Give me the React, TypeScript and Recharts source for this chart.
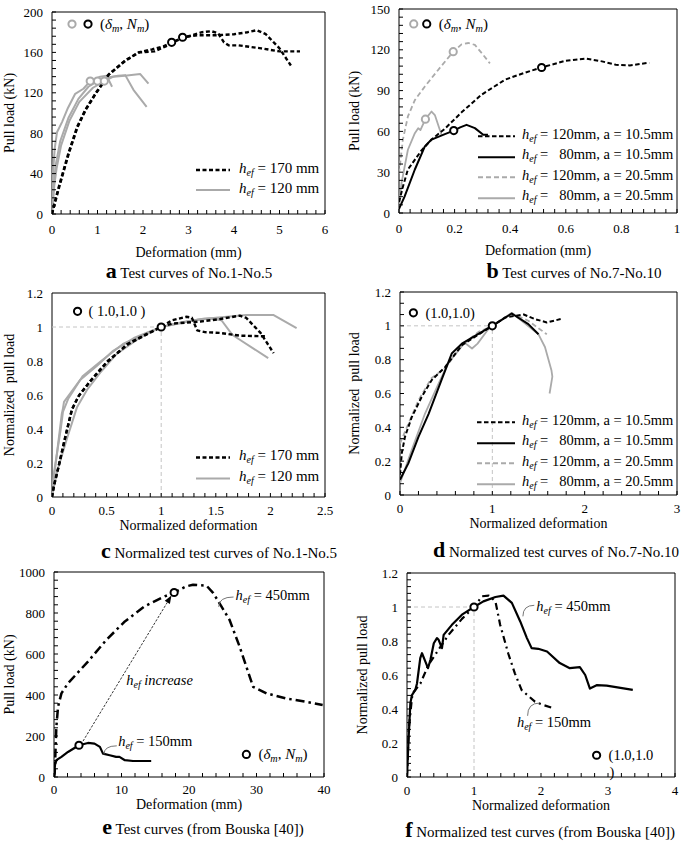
import React from 'react';
import {
  LineChart,
  Line,
  XAxis,
  YAxis,
  Label,
  Legend,
  ReferenceArea,
  ReferenceLine,
  ReferenceDot,
} from 'recharts';

const FONT = "'Liberation Serif', 'Times New Roman', serif";
const BLACK = '#000000';
const GRAY = '#aaaaaa';
const GUIDE = '#c4c4c4';
const LEADER = '#666666';

// ---------- a: test curves No.1-No.5 (mm, kN)
const A_170_1 = [[0, 0], [0.05, 10], [0.15, 27], [0.36, 60], [0.55, 86], [0.73, 103], [0.95, 119], [1.24, 138], [1.61, 152], [1.9, 160], [2.2, 163], [2.45, 166], [2.63, 170], [3.0, 176], [3.3, 180], [3.5, 181], [3.65, 179], [3.78, 170], [3.88, 167], [4.1, 167], [4.6, 164], [5.0, 161], [5.45, 161]];
const A_170_2 = [[0, 0], [0.06, 10], [0.16, 27], [0.37, 60], [0.56, 86], [0.74, 103], [0.96, 119], [1.25, 138], [1.62, 152], [1.92, 160], [2.25, 161], [2.5, 166], [2.87, 175], [3.2, 177], [3.6, 177], [4.0, 178], [4.3, 180], [4.5, 182], [4.7, 178], [5.0, 164], [5.25, 147]];
const A_120_1 = [[0, 0], [0.02, 40], [0.06, 65], [0.11, 81], [0.22, 91], [0.35, 105], [0.51, 119], [0.69, 124], [0.84, 131.6], [1.06, 136], [1.2, 137], [1.32, 126]];
const A_120_2 = [[0, 0], [0.04, 30], [0.08, 48], [0.18, 72], [0.36, 95], [0.58, 114], [0.8, 126], [1.0, 131.6], [1.2, 135], [1.45, 137], [1.61, 137.5], [1.79, 123], [2.08, 106]];
const A_120_3 = [[0, 0], [0.05, 28], [0.1, 45], [0.2, 68], [0.38, 92], [0.6, 111], [0.9, 125], [1.15, 131.6], [1.35, 136], [1.6, 137], [1.94, 138.5], [2.12, 129]];
const A_PEAK_GRAY = [[0.84, 131.6], [1.0, 131.6], [1.15, 131.6]];
const A_PEAK_BLACK = [[2.63, 170], [2.87, 175]];

// ---------- b: test curves No.7-No.10 (mm, kN)
const B_120_105 = [[0, 8], [0.015, 20], [0.032, 32], [0.06, 40], [0.081, 46], [0.117, 54], [0.165, 62], [0.225, 74], [0.297, 87], [0.381, 98], [0.45, 103], [0.513, 107], [0.6, 112], [0.675, 113.5], [0.73, 111.5], [0.78, 109], [0.83, 108.5], [0.9, 110.5]];
const B_80_105 = [[0, 3], [0.02, 12], [0.057, 32], [0.093, 49], [0.117, 54], [0.165, 58], [0.197, 60.6], [0.22, 63], [0.243, 64.8], [0.273, 62.4], [0.303, 57.5], [0.32, 57.5]];
const B_120_205 = [[0, 29], [0.014, 54], [0.032, 71], [0.057, 83], [0.093, 93], [0.14, 105], [0.195, 118.6], [0.225, 124], [0.25, 125], [0.273, 123.6], [0.3, 117], [0.327, 110]];
const B_80_205 = [[0, 5], [0.009, 22], [0.032, 46.5], [0.057, 58.7], [0.069, 62.4], [0.077, 61], [0.095, 69], [0.117, 74.6], [0.129, 72], [0.147, 61], [0.153, 57.5]];
const B_PEAK_GRAY = [[0.195, 118.6], [0.095, 69]];
const B_PEAK_BLACK = [[0.513, 107], [0.197, 60.6]];

// ---------- c: normalized No.1-No.5
const C_170_1 = [[0, 0], [0.015, 0.06], [0.06, 0.18], [0.12, 0.35], [0.18, 0.51], [0.24, 0.59], [0.35, 0.68], [0.5, 0.79], [0.69, 0.9], [0.87, 0.96], [1.0, 1.0], [1.1, 1.02], [1.36, 1.032], [1.54, 1.047], [1.72, 1.067], [1.78, 1.053], [1.91, 0.965], [2.03, 0.846]];
const C_170_2 = [[0, 0], [0.02, 0.07], [0.065, 0.19], [0.125, 0.36], [0.185, 0.52], [0.25, 0.6], [0.36, 0.69], [0.51, 0.8], [0.7, 0.9], [0.88, 0.96], [1.0, 1.0], [1.1, 1.04], [1.23, 1.06], [1.28, 1.055], [1.33, 0.98], [1.4, 0.97], [1.54, 0.965], [1.72, 0.949], [1.97, 0.945]];
const C_120_1 = [[0, 0], [0.015, 0.1], [0.046, 0.26], [0.09, 0.49], [0.1, 0.52], [0.11, 0.56], [0.26, 0.69], [0.41, 0.77], [0.56, 0.86], [0.75, 0.935], [1.0, 1.0], [1.2, 1.03], [1.4, 1.05], [1.54, 1.05], [1.65, 0.955], [1.72, 0.925], [1.98, 0.817]];
const C_120_2 = [[0, 0], [0.03, 0.1], [0.06, 0.18], [0.14, 0.35], [0.23, 0.53], [0.32, 0.63], [0.44, 0.73], [0.59, 0.84], [0.81, 0.94], [1.0, 1.0], [1.3, 1.04], [1.5, 1.055], [1.78, 1.07], [2.03, 1.07], [2.24, 0.994]];
const C_120_3 = [[0, 0], [0.02, 0.15], [0.08, 0.4], [0.1, 0.5], [0.15, 0.58], [0.28, 0.71], [0.45, 0.8], [0.65, 0.9], [1.0, 1.0], [1.3, 1.04], [1.45, 1.05], [1.55, 1.04]];

// ---------- d: normalized No.7-No.10
const D_120_105 = [[0, 0.12], [0.02, 0.25], [0.054, 0.344], [0.127, 0.46], [0.235, 0.58], [0.344, 0.68], [0.488, 0.756], [0.67, 0.885], [0.81, 0.935], [1.0, 1.0], [1.14, 1.05], [1.34, 1.067], [1.46, 1.04], [1.59, 1.02], [1.74, 1.04]];
const D_80_105 = [[0, 0.09], [0.09, 0.187], [0.2, 0.344], [0.31, 0.48], [0.45, 0.68], [0.56, 0.836], [0.67, 0.895], [0.84, 0.95], [1.0, 1.0], [1.21, 1.073], [1.39, 1.01], [1.5, 0.95]];
const D_120_205 = [[0, 0.305], [0.09, 0.42], [0.2, 0.56], [0.34, 0.69], [0.49, 0.75], [0.67, 0.885], [0.85, 0.964], [1.0, 1.0], [1.21, 1.073], [1.39, 1.03], [1.59, 0.95]];
const D_80_205 = [[0, 0.07], [0.127, 0.266], [0.27, 0.48], [0.41, 0.65], [0.52, 0.777], [0.7, 0.9], [0.78, 0.866], [0.84, 0.895], [0.96, 0.983], [1.0, 1.0], [1.21, 1.077], [1.5, 0.95], [1.57, 0.875], [1.64, 0.738], [1.65, 0.7], [1.62, 0.6]];

// ---------- e: Bouska test curves (mm, kN)
const E_450 = [[0, 0], [0.1, 17], [0.35, 245], [0.6, 343], [1.1, 408], [2.07, 457], [5.03, 563], [7.76, 669], [10.5, 759], [13.4, 832], [16.4, 881], [17.8, 900], [19.6, 930], [20.6, 938], [22.6, 933], [23.6, 897], [24.8, 832], [26, 767], [27.5, 636], [28.5, 538], [29.5, 440], [31.5, 408], [34.4, 383], [37.4, 367], [39.8, 351]];
const E_150 = [[0, 0], [0.15, 60], [0.35, 82], [1.1, 98], [2.07, 122], [3.7, 155], [5.03, 166], [6.0, 163], [6.8, 147], [7.26, 114], [8.25, 106], [9.2, 98], [9.7, 98], [10.5, 82], [11.7, 78], [14.4, 78]];
const E_PEAK = [[3.7, 155], [17.8, 900]];

// ---------- f: Bouska normalized
const F_450 = [[0, 0], [0.01, 0.1], [0.025, 0.236], [0.05, 0.433], [0.074, 0.482], [0.124, 0.512], [0.149, 0.55], [0.198, 0.699], [0.224, 0.728], [0.273, 0.68], [0.313, 0.64], [0.35, 0.69], [0.4, 0.787], [0.447, 0.817], [0.472, 0.807], [0.522, 0.758], [0.547, 0.836], [0.67, 0.895], [0.82, 0.955], [1.0, 1.0], [1.14, 1.033], [1.32, 1.059], [1.44, 1.067], [1.565, 1.024], [1.69, 0.915], [1.79, 0.817], [1.86, 0.758], [1.96, 0.754], [2.09, 0.738], [2.28, 0.67], [2.43, 0.64], [2.58, 0.646], [2.66, 0.6], [2.73, 0.52], [2.83, 0.54], [2.98, 0.537], [3.37, 0.512]];
const F_150 = [[0, 0], [0.01, 0.1], [0.025, 0.276], [0.074, 0.466], [0.1, 0.5], [0.2, 0.55], [0.32, 0.66], [0.47, 0.748], [0.62, 0.836], [0.82, 0.93], [1.0, 1.0], [1.12, 1.063], [1.22, 1.067], [1.32, 1.033], [1.39, 0.896], [1.51, 0.728], [1.61, 0.61], [1.71, 0.512], [1.91, 0.443], [2.04, 0.423], [2.19, 0.404]];

const UNIT_PEAK = [[1, 1]];

type Pair = number[];
type Style = { color: string; dash?: string; width: number };
type Axis = { domain: [number, number]; minor: number; major: number; len: number; title: string; off: number; lab?: number };

const DASH_A: Style = { color: BLACK, dash: '4 2.5', width: 2.4 };
const GRAY_A: Style = { color: GRAY, width: 2 };
const DASH_B: Style = { color: BLACK, dash: '4.5 2.5', width: 2 };
const SOLID_B: Style = { color: BLACK, width: 2 };
const GDASH_B: Style = { color: GRAY, dash: '5 3', width: 1.8 };
const GSOLID_B: Style = { color: GRAY, width: 1.8 };
const DASHDOT_E: Style = { color: BLACK, dash: '9 4 2.5 4', width: 2.5 };
const SOLID_E: Style = { color: BLACK, width: 2.2 };
const DASHDOT_F: Style = { color: BLACK, dash: '7 4 2 4', width: 2.2 };

const toPts = (pairs: Pair[]) => pairs.map(([x, y]) => ({ x, y }));
const range = (a: number, b: number, s: number) => {
  const n = Math.round((b - a) / s);
  return Array.from({ length: n + 1 }, (_, i) => Number((a + i * s).toFixed(6)));
};
const isMajor = (v: number, m: number) => Math.abs(v / m - Math.round(v / m)) < 1e-6;
const fmt = (v: number) => String(Number(v.toFixed(3)));

const xTick = (major: number, len: number, lab: number) => (p: any) => {
  const v = p.payload.value;
  return (
    <g>
      {len > 0 && <line x1={p.x} y1={p.y} x2={p.x} y2={p.y - len} stroke={BLACK} strokeWidth={1} />}
      {isMajor(v, major) && (
        <text x={p.x} y={p.y + lab} textAnchor="middle" fontFamily={FONT} fontSize={13} fill={BLACK}>
          {fmt(v)}
        </text>
      )}
    </g>
  );
};

const yTick = (major: number, len: number) => (p: any) => {
  const v = p.payload.value;
  return (
    <g>
      {len > 0 && <line x1={p.x} y1={p.y} x2={p.x + len} y2={p.y} stroke={BLACK} strokeWidth={1} />}
      {isMajor(v, major) && (
        <text x={p.x - 9} y={p.y + 4.5} textAnchor="end" fontFamily={FONT} fontSize={13} fill={BLACK}>
          {fmt(v)}
        </text>
      )}
    </g>
  );
};

function frame(x: Axis, y: Axis) {
  return [
    <ReferenceArea
      key="box"
      x1={x.domain[0]}
      x2={x.domain[1]}
      y1={y.domain[0]}
      y2={y.domain[1]}
      fill="none"
      fillOpacity={0}
      stroke={BLACK}
      strokeWidth={1}
    />,
    <XAxis
      key="xa"
      type="number"
      dataKey="x"
      domain={x.domain}
      ticks={range(x.domain[0], x.domain[1], x.minor)}
      interval={0}
      allowDataOverflow
      tick={xTick(x.major, x.len, x.lab ?? 20)}
      tickLine={false}
      axisLine={false}
      tickSize={0}
      tickMargin={0}
      height={1}
    >
      <Label
        content={(p: any) => {
          const vb = p.viewBox;
          return (
            <text x={vb.x + vb.width / 2} y={vb.y + x.off} textAnchor="middle" fontFamily={FONT} fontSize={14} fill={BLACK}>
              {x.title}
            </text>
          );
        }}
      />
    </XAxis>,
    <YAxis
      key="ya"
      type="number"
      dataKey="y"
      domain={y.domain}
      ticks={range(y.domain[0], y.domain[1], y.minor)}
      interval={0}
      allowDataOverflow
      tick={yTick(y.major, y.len)}
      tickLine={false}
      axisLine={false}
      tickSize={0}
      tickMargin={0}
      width={1}
    >
      <Label
        content={(p: any) => {
          const vb = p.viewBox;
          const cx = vb.x + vb.width - y.off;
          const cy = vb.y + vb.height / 2;
          return (
            <text
              x={cx}
              y={cy}
              transform={`rotate(-90 ${cx} ${cy})`}
              textAnchor="middle"
              dominantBaseline="central"
              fontFamily={FONT}
              fontSize={14}
              fill={BLACK}
              style={{ whiteSpace: 'pre' }}
            >
              {y.title}
            </text>
          );
        }}
      />
    </YAxis>,
  ];
}

function curves(list: [string, Pair[], Style][]) {
  return list.map(([key, pts, s]) => (
    <Line
      key={key}
      data={toPts(pts)}
      dataKey="y"
      type="linear"
      stroke={s.color}
      strokeWidth={s.width}
      strokeDasharray={s.dash}
      strokeLinejoin="round"
      dot={false}
      activeDot={false}
      legendType="none"
      isAnimationActive={false}
    />
  ));
}

function peaks(key: string, pts: Pair[], color: string) {
  return (
    <Line
      key={key}
      data={toPts(pts)}
      dataKey="y"
      stroke="none"
      dot={{ r: 3.6, fill: '#ffffff', stroke: color, strokeWidth: 2 }}
      activeDot={false}
      legendType="none"
      isAnimationActive={false}
    />
  );
}

function guides() {
  return [
    <ReferenceLine key="g1" segment={[{ x: 0, y: 1 }, { x: 1, y: 1 }]} stroke={GUIDE} strokeDasharray="4 3" strokeWidth={1} />,
    <ReferenceLine key="g2" segment={[{ x: 1, y: 0 }, { x: 1, y: 1 }]} stroke={GUIDE} strokeDasharray="4 3" strokeWidth={1} />,
  ];
}

function MathPeak({ x, y, size = 15 }: { x: number; y: number; size?: number }) {
  const s = size * 0.68;
  return (
    <text x={x} y={y} fontFamily={FONT} fontSize={size} fill={BLACK}>
      <tspan>(</tspan>
      <tspan fontStyle="italic">δ</tspan>
      <tspan fontStyle="italic" fontSize={s} dy={3}>m</tspan>
      <tspan dy={-3}>, </tspan>
      <tspan fontStyle="italic">N</tspan>
      <tspan fontStyle="italic" fontSize={s} dy={3}>m</tspan>
      <tspan dy={-3}>)</tspan>
    </text>
  );
}

function HefText({ x, y, rest, allItalic = false }: { x: number; y: number; rest: string; allItalic?: boolean }) {
  return (
    <text x={x} y={y} fontFamily={FONT} fontSize={14.5} fill={BLACK}>
      <tspan fontStyle="italic">h</tspan>
      <tspan fontStyle="italic" fontSize={10} dy={3}>ef</tspan>
      <tspan dy={-3} fontStyle={allItalic ? 'italic' : 'normal'} style={{ whiteSpace: 'pre' }}>
        {rest}
      </tspan>
    </text>
  );
}

function note(key: string, x: number, y: number, draw: (cx: number, cy: number) => React.ReactNode) {
  return <ReferenceDot key={key} x={x} y={y} r={1} shape={(p: any) => <g>{draw(p.cx, p.cy)}</g>} />;
}

const ring = (cx: number, cy: number, color: string) => (
  <circle cx={cx} cy={cy} r={3.6} fill="#ffffff" stroke={color} strokeWidth={2} />
);

function leader(key: string, a: Pair, b: Pair) {
  return (
    <ReferenceLine
      key={key}
      segment={[{ x: a[0], y: a[1] }, { x: b[0], y: b[1] }]}
      shape={(p: any) => (
        <path d={`M${p.x1},${p.y1} Q${p.x1},${p.y2} ${p.x2},${p.y2}`} fill="none" stroke={LEADER} strokeWidth={0.9} />
      )}
    />
  );
}

function arrow(key: string, a: Pair, b: Pair) {
  return (
    <ReferenceLine
      key={key}
      segment={[{ x: a[0], y: a[1] }, { x: b[0], y: b[1] }]}
      shape={(p: any) => {
        const ang = Math.atan2(p.y2 - p.y1, p.x2 - p.x1);
        const L = 8;
        const W = 3;
        const bx = p.x2 - L * Math.cos(ang);
        const by = p.y2 - L * Math.sin(ang);
        const nx = -Math.sin(ang) * W;
        const ny = Math.cos(ang) * W;
        return (
          <g>
            <line x1={p.x1} y1={p.y1} x2={bx} y2={by} stroke={BLACK} strokeWidth={0.8} strokeDasharray="2.5 1.5" />
            <polygon points={`${p.x2},${p.y2} ${bx + nx},${by + ny} ${bx - nx},${by - ny}`} fill={BLACK} />
          </g>
        );
      }}
    />
  );
}

type LegendRow = { s: Style; label: string };
const hef = (rest: string) => (
  <>
    <i>h</i>
    <sub style={{ fontSize: 10, fontStyle: 'italic', verticalAlign: -3 }}>ef</sub>
    {rest}
  </>
);

function legend(key: string, rows: LegendRow[], left: number, top: number, rowH: number, sampleW: number, gap: number, size: number) {
  return (
    <Legend
      key={key}
      layout="vertical"
      align="center"
      verticalAlign="middle"
      wrapperStyle={{ left, top, width: 'auto' }}
      content={() => (
        <div style={{ fontFamily: FONT, fontSize: size, color: BLACK }}>
          {rows.map((r, i) => (
            <div key={i} style={{ display: 'flex', alignItems: 'center', height: rowH, whiteSpace: 'pre' }}>
              <svg width={sampleW} height={rowH} style={{ display: 'block' }}>
                <line x1={0} y1={rowH / 2} x2={sampleW} y2={rowH / 2} stroke={r.s.color} strokeWidth={r.s.width} strokeDasharray={r.s.dash} />
              </svg>
              <span style={{ marginLeft: gap, lineHeight: `${rowH}px` }}>{hef(r.label)}</span>
            </div>
          ))}
        </div>
      )}
    />
  );
}

const AX_A: Axis = { domain: [0, 6], minor: 0.2, major: 1, len: 4, title: 'Deformation (mm)', off: 43 };
const AY_A: Axis = { domain: [0, 200], minor: 8, major: 40, len: 4, title: 'Pull load (kN)', off: 43 };
const AX_B: Axis = { domain: [0, 1], minor: 0.04, major: 0.2, len: 4, title: 'Deformation (mm)', off: 42 };
const AY_B: Axis = { domain: [0, 150], minor: 6, major: 30, len: 4, title: 'Pull load (kN)', off: 45 };
const AX_C: Axis = { domain: [0, 2.5], minor: 0.1, major: 0.5, len: 4, title: 'Normalized deformation', off: 33, lab: 18 };
const AY_C: Axis = { domain: [0, 1.2], minor: 0.2, major: 0.2, len: 0, title: 'Normalized  pull load', off: 43 };
const AX_D: Axis = { domain: [0, 3], minor: 0.2, major: 1, len: 4, title: 'Normalized deformation', off: 33, lab: 18 };
const AY_D: Axis = { domain: [0, 1.2], minor: 0.2 / 3, major: 0.2, len: 4, title: 'Normalized  pull load', off: 46 };
const AX_E: Axis = { domain: [0, 40], minor: 2, major: 10, len: 4, title: 'Deformation (mm)', off: 32, lab: 17 };
const AY_E: Axis = { domain: [0, 1000], minor: 40, major: 200, len: 4, title: 'Pull load (kN)', off: 45 };
const AX_F: Axis = { domain: [0, 4], minor: 0.2, major: 1, len: 4, title: 'Normalized deformation', off: 33, lab: 18 };
const AY_F: Axis = { domain: [0, 1.2], minor: 0.04, major: 0.2, len: 4, title: 'Normalized pull load', off: 45 };

const CAPTIONS = [
  { letter: 'a', text: 'Test curves of No.1-No.5', cx: 189, cy: 271 },
  { letter: 'b', text: 'Test curves of No.7-No.10', cx: 574, cy: 271 },
  { letter: 'c', text: 'Normalized test curves of No.1-No.5', cx: 219, cy: 551 },
  { letter: 'd', text: 'Normalized test curves of No.7-No.10', cx: 556, cy: 550 },
  { letter: 'e', text: 'Test curves (from Bouska [40])', cx: 203, cy: 827 },
  { letter: 'f', text: 'Normalized test curves (from Bouska [40])', cx: 540, cy: 830 },
];

const ROWS_A: LegendRow[] = [
  { s: DASH_A, label: ' = 170 mm' },
  { s: GRAY_A, label: ' = 120 mm' },
];
const ROWS_B: LegendRow[] = [
  { s: DASH_B, label: ' = 120mm, a = 10.5mm' },
  { s: SOLID_B, label: ' =   80mm, a = 10.5mm' },
  { s: GDASH_B, label: ' = 120mm, a = 20.5mm' },
  { s: GSOLID_B, label: ' =   80mm, a = 20.5mm' },
];

function Panel({ left, top, margin, children }: { left: number; top: number; margin: any; children: React.ReactNode }) {
  return (
    <div style={{ position: 'absolute', left, top }}>
      <LineChart width={left === 0 ? 340 : 345} height={282} margin={margin}>
        {children}
      </LineChart>
    </div>
  );
}

export default function App() {
  return (
    <div style={{ position: 'absolute', left: 0, top: 0, width: 685, height: 842, background: '#ffffff', overflow: 'hidden' }}>
      <Panel left={0} top={0} margin={{ top: 12, right: 15, bottom: 67, left: 51 }}>
        {frame(AX_A, AY_A)}
        {curves([
          ['g1', A_120_1, GRAY_A],
          ['g2', A_120_2, GRAY_A],
          ['g3', A_120_3, GRAY_A],
          ['d1', A_170_1, DASH_A],
          ['d2', A_170_2, DASH_A],
        ])}
        {peaks('pg', A_PEAK_GRAY, GRAY)}
        {peaks('pb', A_PEAK_BLACK, BLACK)}
        {note('key', 0.44, 188, (cx, cy) => (
          <>
            {ring(cx, cy, GRAY)}
            {ring(cx + 16, cy, BLACK)}
            <MathPeak x={cx + 28} y={cy + 5} />
          </>
        ))}
        {legend('lg', ROWS_A, 196, 160, 20, 34, 9, 15)}
      </Panel>

      <Panel left={340} top={0} margin={{ top: 9, right: 8, bottom: 68, left: 58 }}>
        {frame(AX_B, AY_B)}
        {curves([
          ['gs', B_80_205, GSOLID_B],
          ['gd', B_120_205, GDASH_B],
          ['bs', B_80_105, SOLID_B],
          ['bd', B_120_105, DASH_B],
        ])}
        {peaks('pg', B_PEAK_GRAY, GRAY)}
        {peaks('pb', B_PEAK_BLACK, BLACK)}
        {note('key', 0.053, 139, (cx, cy) => (
          <>
            {ring(cx, cy, GRAY)}
            {ring(cx + 13, cy, BLACK)}
            <MathPeak x={cx + 25} y={cy + 5} />
          </>
        ))}
        {legend('lg', ROWS_B, 138, 126, 20.5, 37, 7, 14.5)}
      </Panel>

      <Panel left={0} top={280} margin={{ top: 13, right: 15, bottom: 64, left: 51 }}>
        {frame(AX_C, AY_C)}
        {guides()}
        {curves([
          ['g1', C_120_1, GRAY_A],
          ['g2', C_120_2, GRAY_A],
          ['g3', C_120_3, GRAY_A],
          ['d1', C_170_1, DASH_A],
          ['d2', C_170_2, DASH_A],
        ])}
        {peaks('pk', UNIT_PEAK, BLACK)}
        {note('key', 0.234, 1.092, (cx, cy) => (
          <>
            {ring(cx, cy, BLACK)}
            <text x={cx + 11} y={cy + 5} fontFamily={FONT} fontSize={14.5} fill={BLACK} style={{ whiteSpace: 'pre' }}>
              ( 1.0,1.0 )
            </text>
          </>
        ))}
        {legend('lg', ROWS_A, 196, 167, 21, 34, 9, 15)}
      </Panel>

      <Panel left={340} top={280} margin={{ top: 12, right: 8, bottom: 66, left: 59 }}>
        {frame(AX_D, AY_D)}
        {guides()}
        {curves([
          ['gs', D_80_205, GSOLID_B],
          ['gd', D_120_205, GDASH_B],
          ['bs', D_80_105, SOLID_B],
          ['bd', D_120_105, DASH_B],
        ])}
        {peaks('pk', UNIT_PEAK, BLACK)}
        {note('key', 0.145, 1.077, (cx, cy) => (
          <>
            {ring(cx, cy, BLACK)}
            <text x={cx + 12} y={cy + 5} fontFamily={FONT} fontSize={14.5} fill={BLACK}>
              (1.0,1.0)
            </text>
          </>
        ))}
        {legend('lg', ROWS_B, 137, 132, 20.5, 38, 7, 14.5)}
      </Panel>

      <Panel left={0} top={560} margin={{ top: 12, right: 16, bottom: 64, left: 53 }}>
        {frame(AX_E, AY_E)}
        {arrow('arr', [4.3, 175], [17.4, 885])}
        {curves([
          ['s', E_150, SOLID_E],
          ['dd', E_450, DASHDOT_E],
        ])}
        {peaks('pk', E_PEAK, BLACK)}
        {leader('l450', [24.4, 830], [26.6, 878])}
        {leader('l150', [7.4, 110], [9.3, 152])}
        {note('t0', 10.7, 449, (cx, cy) => <HefText x={cx} y={cy} rest=" increase" allItalic />)}
        {note('t1', 26.9, 865, (cx, cy) => <HefText x={cx} y={cy} rest=" = 450mm" />)}
        {note('t2', 9.5, 150, (cx, cy) => <HefText x={cx} y={cy} rest=" = 150mm" />)}
        {note('key', 28.5, 110, (cx, cy) => (
          <>
            {ring(cx, cy, BLACK)}
            <MathPeak x={cx + 12} y={cy + 5} />
          </>
        ))}
      </Panel>

      <Panel left={340} top={560} margin={{ top: 13, right: 10, bottom: 64, left: 66 }}>
        {frame(AX_F, AY_F)}
        {guides()}
        {curves([
          ['dd', F_150, DASHDOT_F],
          ['s', F_450, SOLID_E],
        ])}
        {peaks('pk', UNIT_PEAK, BLACK)}
        {leader('l450', [1.73, 0.945], [1.9, 1.01])}
        {leader('l150', [1.8, 0.36], [1.98, 0.435])}
        {note('t1', 1.93, 0.975, (cx, cy) => <HefText x={cx} y={cy} rest=" = 450mm" />)}
        {note('t2', 1.64, 0.295, (cx, cy) => <HefText x={cx} y={cy} rest=" = 150mm" />)}
        {note('key', 2.83, 0.128, (cx, cy) => (
          <>
            {ring(cx, cy, BLACK)}
            <text x={cx + 12} y={cy + 5} fontFamily={FONT} fontSize={14.5} fill={BLACK}>
              (1.0,1.0
            </text>
            <text x={cx + 13} y={cy + 22} fontFamily={FONT} fontSize={14.5} fill={BLACK}>
              )
            </text>
          </>
        ))}
      </Panel>

      {CAPTIONS.map((c) => (
        <div
          key={c.letter}
          style={{
            position: 'absolute',
            left: c.cx,
            top: c.cy - 11,
            transform: 'translateX(-50%)',
            fontFamily: FONT,
            fontSize: 15,
            lineHeight: '22px',
            whiteSpace: 'nowrap',
            color: BLACK,
          }}
        >
          <b style={{ fontSize: 22, lineHeight: '22px' }}>{c.letter}</b> {c.text}
        </div>
      ))}
    </div>
  );
}
